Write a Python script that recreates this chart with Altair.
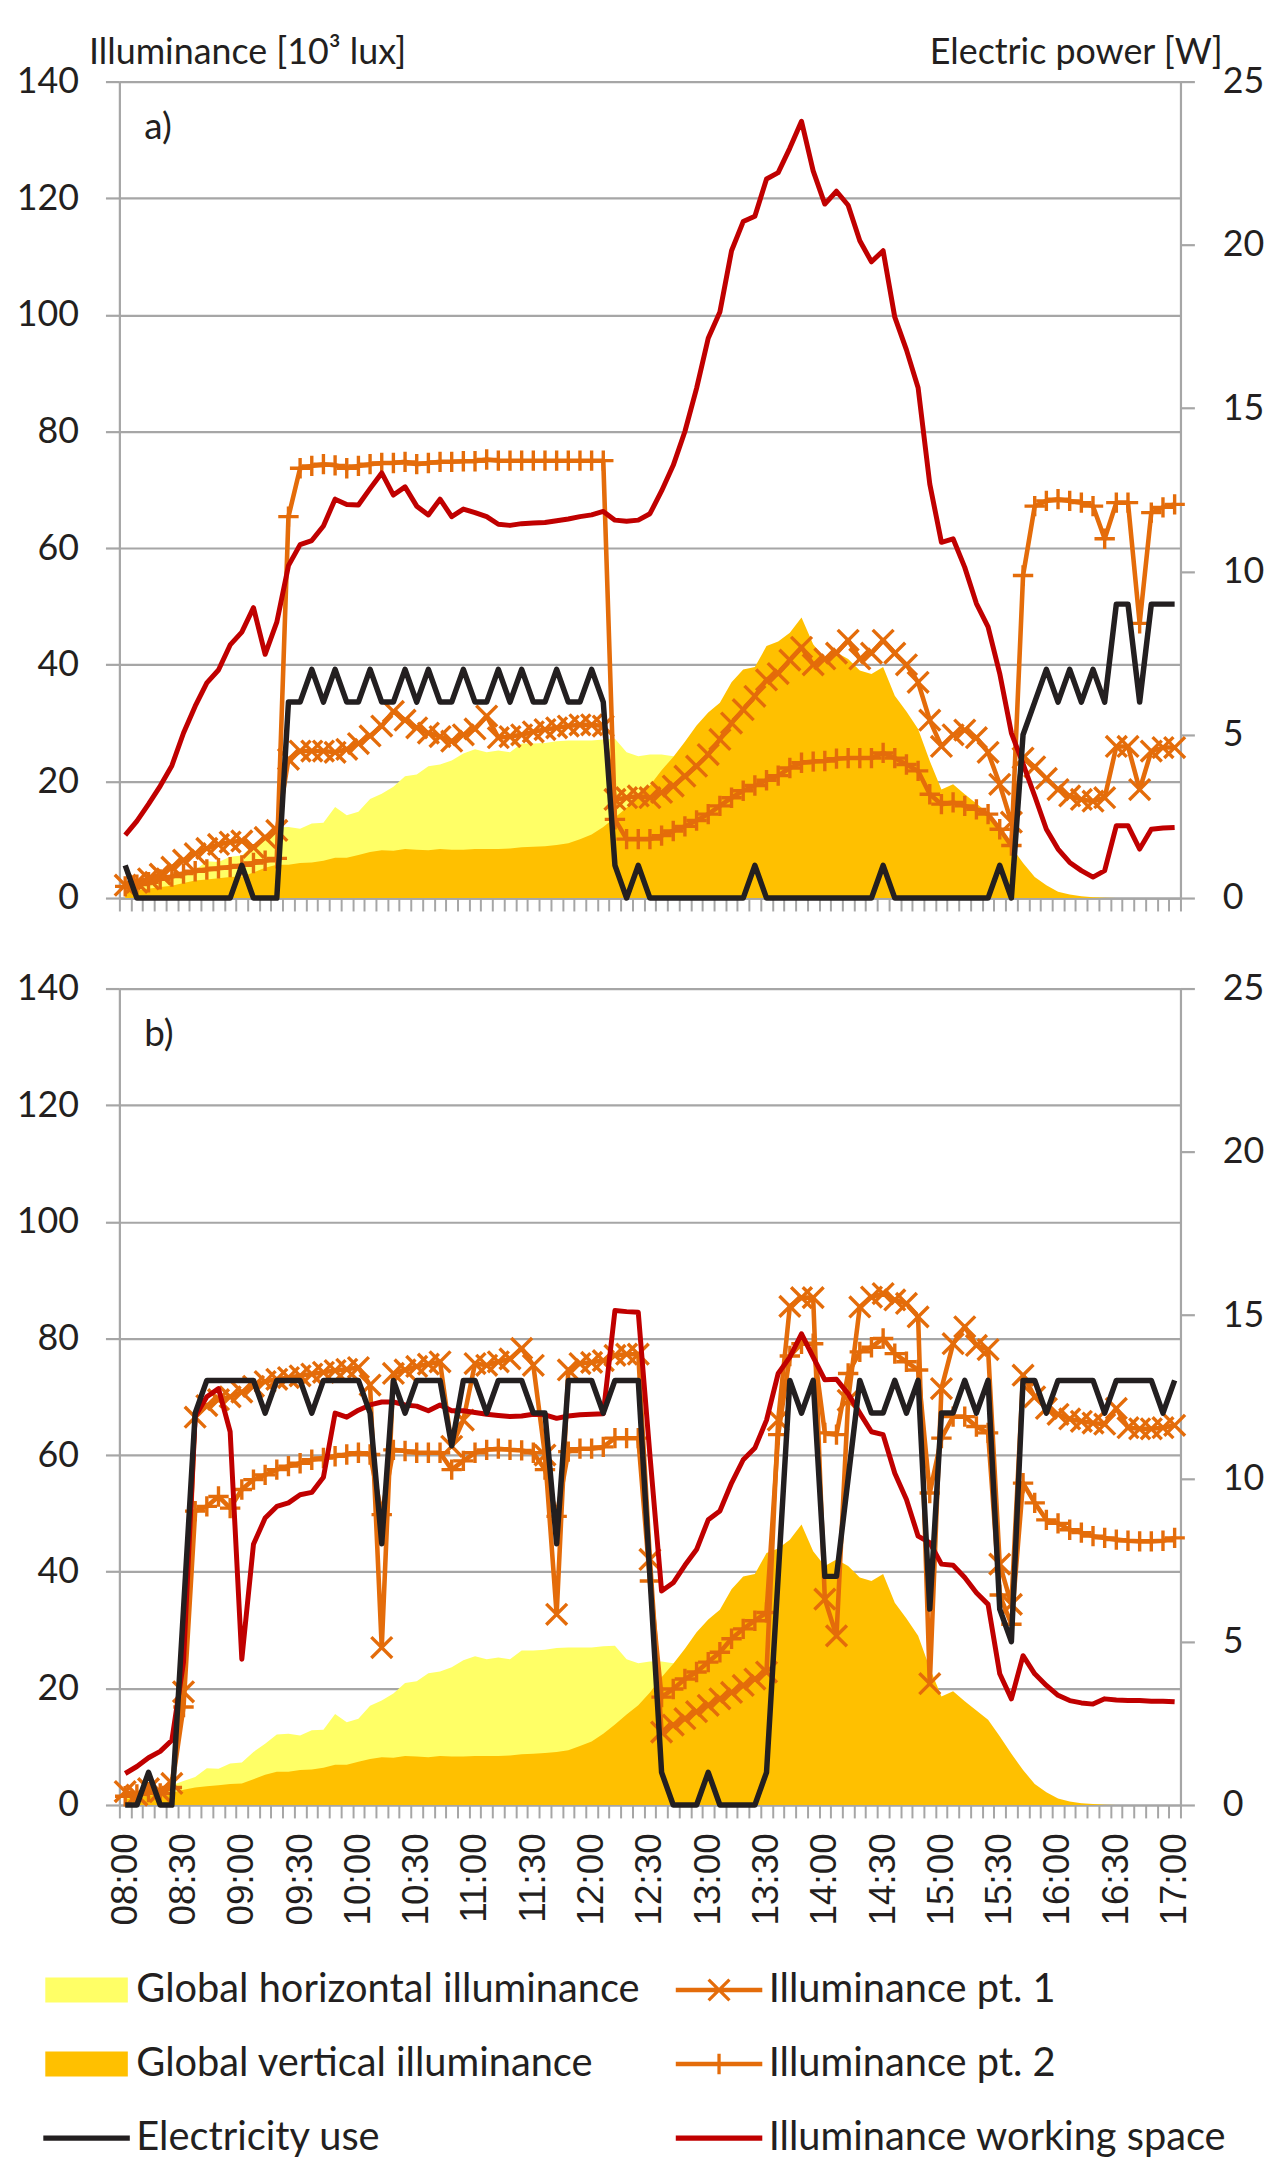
import altair as alt
import pandas as pd

# ---------------------------------------------------------------- data
TICK_LABELS = ["08:00", "08:30", "09:00", "09:30", "10:00", "10:30", "11:00",
               "11:30", "12:00", "12:30", "13:00", "13:30", "14:00", "14:30",
               "15:00", "15:30", "16:00", "16:30", "17:00"]
N = 91                      # 6-minute steps 08:00 ... 17:00
STEP = list(range(N))

GLOBAL_HORIZONTAL = [
    1.5, 2.0, 2.5, 3.0, 3.4, 4.1, 4.8, 6.3, 6.2, 7.1,
    7.3, 9.1, 10.5, 12.1, 12.2, 11.9, 12.8, 12.9, 15.6, 14.2,
    14.8, 17.0, 17.9, 19.1, 20.9, 21.2, 22.6, 22.9, 23.6, 24.8,
    25.5, 25.0, 25.3, 25.0, 26.5, 26.5, 26.6, 26.9, 27.0, 27.0,
    27.0, 27.2, 27.3, 25.0, 24.3, 24.6, 24.6, 24.3, 24.0, 23.6,
    23.2, 22.8, 22.3, 21.8, 21.3, 20.8, 20.2, 19.6, 19.0, 18.4,
    17.8, 17.1, 16.4, 15.7, 15.0, 14.2, 13.4, 12.6, 11.8, 11.0,
    10.2, 9.3, 8.4, 7.5, 6.6, 5.6, 4.6, 3.6, 2.6, 1.7,
    0.9, 0.4, 0.2, 0.1, 0, 0, 0, 0, 0, 0,
    0]
GLOBAL_VERTICAL = [
    1.0, 1.3, 1.6, 1.9, 2.1, 2.6, 3.0, 3.2, 3.4, 3.6,
    3.7, 4.4, 5.2, 5.7, 5.7, 6.0, 6.1, 6.4, 6.9, 6.9,
    7.4, 7.9, 8.2, 8.1, 8.4, 8.3, 8.2, 8.4, 8.3, 8.3,
    8.4, 8.4, 8.4, 8.5, 8.7, 8.8, 8.9, 9.1, 9.4, 10.1,
    10.9, 12.2, 13.8, 15.5, 17.1, 19.3, 21.9, 24.2, 26.8, 29.6,
    31.8, 33.5, 37.0, 39.2, 39.6, 43.2, 44.0, 45.5, 48.1, 43.5,
    41.0, 42.1, 41.0, 39.0, 38.4, 39.6, 34.7, 32.0, 29.0, 23.5,
    18.6, 19.5, 17.8, 16.2, 14.6, 11.8, 8.8, 6.0, 3.6, 2.2,
    1.1, 0.6, 0.3, 0.15, 0.05, 0, 0, 0, 0, 0,
    0]

# panel a)
A_PT1 = [
    2.2, 2.7, 3.3, 4.1, 5.3, 6.5, 7.6, 8.5, 9.2, 9.6,
    9.8, 8.7, 10.4, 11.6, 23.8, 25.2, 25.2, 25.2, 25.0, 25.5,
    26.5, 27.8, 29.5, 32.0, 30.5, 29.2, 28.3, 27.7, 26.9, 28.0,
    29.0, 31.2, 27.5, 27.7, 28.0, 28.5, 28.9, 29.2, 29.5, 29.7,
    29.7, 29.5, 16.9, 17.2, 17.5, 17.2, 18.1, 19.2, 20.9, 22.6,
    24.6, 27.2, 30.0, 32.3, 34.6, 37.4, 38.5, 40.8, 43.0, 40.0,
    41.0, 42.0, 44.2, 41.0, 42.0, 44.2, 42.0, 40.0, 37.0, 30.5,
    26.0, 28.0, 28.8, 27.5, 25.0, 19.5, 13.0, 24.0, 22.5, 20.5,
    18.6, 17.5, 16.9, 16.6, 17.2, 26.0, 26.0, 18.6, 25.2, 25.8,
    25.8]
A_PT2 = [
    2.0, 2.3, 2.7, 3.2, 3.7, 4.2, 4.6, 4.9, 5.1, 5.3,
    5.6, 6.0, 6.4, 6.8, 65.4, 73.7, 74.1, 74.4, 74.2, 73.7,
    74.1, 74.4, 74.6, 74.6, 74.8, 74.4, 74.6, 74.8, 74.8, 74.9,
    74.9, 75.2, 75.0, 75.0, 75.0, 75.0, 75.0, 75.0, 75.0, 75.0,
    75.0, 75.0, 13.5, 10.1, 10.1, 10.1, 10.7, 11.5, 12.3, 13.3,
    14.4, 15.8, 17.2, 18.4, 19.3, 20.2, 21.0, 22.3, 23.2, 23.4,
    23.5, 23.9, 24.0, 24.0, 24.0, 24.9, 24.0, 22.9, 21.8, 17.8,
    16.1, 16.4, 15.8, 15.2, 14.4, 11.8, 9.0, 55.3, 67.2, 68.1,
    68.4, 68.1, 67.8, 67.2, 61.6, 67.8, 67.8, 47.1, 66.1, 67.0,
    67.5]
A_WORK = [
    10.8, 13.2, 16.1, 19.2, 22.7, 28.3, 32.9, 36.9, 39.1, 43.4,
    45.6, 49.8, 41.8, 47.3, 57.0, 60.6, 61.3, 63.8, 68.4, 67.5,
    67.4, 70.2, 72.9, 69.1, 70.5, 67.2, 65.7, 68.4, 65.4, 66.7,
    66.1, 65.4, 64.1, 63.9, 64.2, 64.3, 64.4, 64.7, 65.0, 65.4,
    65.7, 66.3, 64.8, 64.6, 64.8, 65.9, 69.8, 74.2, 80.0, 87.4,
    96.0, 100.5, 111.0, 116.0, 116.9, 123.3, 124.4, 128.6, 133.2, 124.7,
    119.0, 121.2, 118.8, 112.7, 109.1, 111.0, 99.6, 94.0, 87.5, 71.0,
    61.0, 61.6, 56.7, 50.5, 46.5, 38.5, 28.3, 23.0, 17.5, 11.8,
    8.4, 6.1, 4.7, 3.6, 4.7, 12.4, 12.4, 8.4, 11.8, 12.0,
    12.1]
A_ELEC = [
    1, 0, 0, 0, 0, 0, 0, 0, 0, 0,
    1, 0, 0, 0, 6, 6, 7, 6, 7, 6,
    6, 7, 6, 6, 7, 6, 7, 6, 6, 7,
    6, 6, 7, 6, 7, 6, 6, 7, 6, 6,
    7, 6, 1, 0, 1, 0, 0, 0, 0, 0,
    0, 0, 0, 0, 1, 0, 0, 0, 0, 0,
    0, 0, 0, 0, 0, 1, 0, 0, 0, 0,
    0, 0, 0, 0, 0, 1, 0, 5, 6, 7,
    6, 7, 6, 7, 6, 9, 9, 6, 9, 9,
    9]

# panel b)
B_PT1 = [
    2.3, 1.7, 2.8, 2.3, 3.7, 19.4, 66.5, 68.5, 69.5, 70.0,
    70.8, 71.8, 72.6, 73.0, 73.3, 73.6, 73.9, 74.2, 74.5, 74.7,
    75.0, 72.0, 27.0, 74.0, 74.6, 75.2, 75.6, 76.0, 61.5, 66.0,
    75.7, 75.4, 76.0, 76.5, 78.3, 75.4, 60.0, 32.7, 74.6, 75.7,
    75.9, 76.2, 77.1, 77.3, 77.3, 42.1, 12.5, 13.7, 14.8, 16.0,
    17.1, 18.2, 19.3, 20.5, 21.6, 22.8, 66.0, 85.5, 87.0, 87.0,
    35.3, 29.0, 69.4, 85.4, 87.1, 87.7, 86.6, 86.0, 83.7, 20.8,
    71.4, 79.1, 82.0, 78.8, 78.1, 41.3, 34.4, 73.7, 70.0, 68.0,
    67.0, 66.2, 65.8, 65.5, 65.3, 68.0, 64.7, 64.5, 64.5, 64.7,
    65.1]
B_PT2 = [
    1.5, 1.8, 2.2, 2.0, 3.0, 16.8, 50.4, 51.2, 52.9, 50.9,
    54.1, 55.8, 56.6, 57.5, 58.1, 58.6, 59.2, 59.5, 59.8, 60.1,
    60.4, 60.1, 49.8, 60.9, 60.7, 60.4, 60.4, 60.4, 57.5, 59.0,
    60.4, 60.9, 61.1, 60.9, 60.8, 60.4, 57.5, 49.5, 60.6, 61.1,
    61.1, 61.4, 62.9, 62.9, 62.9, 38.4, 18.5, 19.9, 21.6, 22.8,
    24.5, 26.2, 28.5, 30.2, 31.6, 33.0, 63.5, 77.0, 79.1, 79.1,
    63.8, 63.5, 74.0, 77.7, 78.5, 80.0, 77.4, 76.0, 74.6, 53.5,
    62.9, 66.6, 66.6, 64.9, 63.8, 36.0, 31.0, 55.2, 51.8, 48.9,
    48.3, 47.2, 46.7, 46.1, 45.8, 45.5, 45.3, 45.2, 45.2, 45.3,
    45.8]
B_WORK = [
    5.4, 6.6, 8.1, 9.2, 11.1, 24.5, 66.6, 70.0, 71.4, 64.0,
    25.0, 44.7, 49.2, 51.2, 51.8, 53.2, 53.6, 56.2, 67.2, 66.5,
    67.7, 68.6, 69.1, 69.1, 68.6, 68.4, 67.6, 68.6, 67.6, 67.6,
    67.3, 67.0, 66.8, 66.6, 66.7, 67.0, 66.9, 66.3, 66.7, 66.9,
    67.0, 67.1, 84.8, 84.6, 84.5, 60.0, 36.7, 38.1, 41.1, 43.8,
    48.9, 50.4, 55.2, 59.2, 61.2, 66.0, 74.0, 76.8, 80.8, 76.8,
    72.9, 73.0, 70.5, 67.2, 64.0, 63.5, 56.9, 52.4, 46.1, 45.0,
    41.3, 41.1, 39.0, 36.4, 34.4, 22.5, 18.2, 25.6, 22.5, 20.5,
    18.8, 17.9, 17.5, 17.3, 18.2, 18.0, 17.9, 17.9, 17.8, 17.8,
    17.7]
B_ELEC = [
    0, 0, 1, 0, 0, 6, 12, 13, 13, 13,
    13, 13, 12, 13, 13, 13, 12, 13, 13, 13,
    13, 12, 8, 13, 12, 13, 13, 13, 11, 13,
    13, 12, 13, 13, 13, 12, 12, 8, 13, 13,
    13, 12, 13, 13, 13, 7, 1, 0, 0, 0,
    1, 0, 0, 0, 0, 1, 7, 13, 12, 13,
    7, 7, 10, 13, 12, 12, 13, 12, 13, 6,
    12, 12, 13, 12, 13, 6, 5, 13, 13, 12,
    13, 13, 13, 13, 12, 13, 13, 13, 13, 12,
    13]

PANEL_LABELS = ["a)", "b)"]
LEFT_TITLE = "Illuminance [10³ lux]"
RIGHT_TITLE = "Electric power [W]"
LEFT_TICKS = [0, 20, 40, 60, 80, 100, 120, 140]
RIGHT_TICKS = [0, 5, 10, 15, 20, 25]

# legend entries, column by column (left column first)
LEGEND_ORDER = ["Global horizontal illuminance", "Global vertical illuminance",
                "Electricity use", "Illuminance pt. 1", "Illuminance pt. 2",
                "Illuminance working space"]

# ---------------------------------------------------------------- style
FONT = "Lato"
TXT = "#231F20"
GRID = "#A6A6A6"
YELLOW = "#FFFF66"
GOLD = "#FFC000"
ORANGE = "#E46C0A"
RED = "#C00000"
BLACK = "#231F20"
LEGEND_COLORS = [YELLOW, GOLD, BLACK, ORANGE, ORANGE, RED]

W, H = 1067, 821
HALF = W / N / 2.0

X_MARK = "M-1,-1L1,1M-1,1L1,-1"
PLUS_MARK = "M-1,0L1,0M0,-1L0,1"

# legend symbols (filled paths, unit = 22 px)
SWATCH = "M-1.886,-0.568H1.886V0.568H-1.886Z"
LINE_E = "M-1.977,-0.125H1.977V0.125H-1.977Z"
LINE_W = "M-1.977,-0.115H1.977V0.115H-1.977Z"
LINE_O = "M-1.977,-0.105H1.977V0.105H-1.977Z"
XSYM = ("M-0.4255,-0.5285L0.5285,0.4255L0.4255,0.5285L-0.5285,-0.4255Z "
        "M-0.5285,0.4255L0.4255,-0.5285L0.5285,-0.4255L-0.4255,0.5285Z")
PSYM = ("M-0.075,-0.47H0.075V0.47H-0.075Z "
        "M-0.47,-0.075H0.47V0.075H-0.47Z")
LEGEND_SHAPES = [SWATCH, SWATCH, LINE_E, LINE_O + " " + XSYM,
                 LINE_O + " " + PSYM, LINE_W]

BOUNDS = [i - 0.5 for i in range(N + 1)]
LAB_ARR = "[" + ",".join("'%s'" % t for t in TICK_LABELS) + "]"
LABEL_EXPR = ("((datum.value + 0.5) % 5 == 0) ? " + LAB_ARR +
              "[(datum.value + 0.5) / 5] : ''")

XSCALE = alt.Scale(domain=[-0.5, N - 0.5], nice=False, zero=False)


def x_enc(show_labels):
    ax = alt.Axis(values=BOUNDS, title=None, grid=False, labels=show_labels,
                  labelExpr=LABEL_EXPR, labelAngle=-90, labelOffset=HALF,
                  labelPadding=15, labelFont="Liberation Sans",
                  labelFontSize=37, labelColor=TXT, labelOverlap=False,
                  labelFlush=False, labelBound=False,
                  ticks=True, tickSize=13, tickColor=GRID, tickWidth=2,
                  domain=True, domainColor=GRID, domainWidth=2.2)
    return alt.X("step:Q", scale=XSCALE, axis=ax)


def y_left(field, with_title):
    ax = alt.Axis(values=LEFT_TICKS, orient="left", grid=True,
                  gridColor=GRID, gridWidth=2.2, tickSize=14, tickColor=GRID,
                  tickWidth=2.2, domainColor=GRID, domainWidth=2.2,
                  labelFont=FONT, labelFontSize=36, labelColor=TXT,
                  labelPadding=27,
                  title=LEFT_TITLE if with_title else None,
                  titleAngle=0, titleAlign="left", titleBaseline="alphabetic",
                  titleX=-31, titleY=-18, titleFont=FONT, titleFontSize=36,
                  titleFontWeight="normal", titleColor=TXT)
    return alt.Y(field + ":Q", scale=alt.Scale(domain=[0, 140], nice=False),
                 axis=ax)


def y_right(with_title):
    ax = alt.Axis(values=RIGHT_TICKS, orient="right", grid=False,
                  tickSize=14, tickColor=GRID, tickWidth=2.2,
                  domainColor=GRID, domainWidth=2.2,
                  labelFont=FONT, labelFontSize=36, labelColor=TXT,
                  labelPadding=28,
                  title=RIGHT_TITLE if with_title else None,
                  titleAngle=0, titleAlign="right", titleBaseline="alphabetic",
                  titleX=42, titleY=-18, titleFont=FONT, titleFontSize=36,
                  titleFontWeight="normal", titleColor=TXT)
    return alt.Y("elec:Q", scale=alt.Scale(domain=[0, 25], nice=False),
                 axis=ax)


def panel(idx, pt1, pt2, work, elec):
    first = idx == 0
    df = pd.DataFrame({"step": STEP, "gh": GLOBAL_HORIZONTAL,
                       "gv": GLOBAL_VERTICAL, "pt1": pt1, "pt2": pt2,
                       "work": work, "elec": elec})
    xe = x_enc(not first)
    base = alt.Chart(df)
    gh = base.mark_area(color=YELLOW, opacity=1).encode(x=xe, y=y_left("gh", first))
    gv = base.mark_area(color=GOLD, opacity=1).encode(x=xe, y=y_left("gv", first))
    p2l = base.mark_line(color=ORANGE, strokeWidth=4.6, strokeJoin="round").encode(
        x=xe, y=y_left("pt2", first))
    p2m = base.mark_point(shape=PLUS_MARK, filled=False, size=420, strokeWidth=3.4,
                          color=ORANGE, opacity=1).encode(x=xe, y=y_left("pt2", first))
    p1l = base.mark_line(color=ORANGE, strokeWidth=4.6, strokeJoin="round").encode(
        x=xe, y=y_left("pt1", first))
    p1m = base.mark_point(shape=X_MARK, filled=False, size=440, strokeWidth=3.4,
                          color=ORANGE, opacity=1).encode(x=xe, y=y_left("pt1", first))
    wl = base.mark_line(color=RED, strokeWidth=5, strokeJoin="round").encode(
        x=xe, y=y_left("work", first))
    lab = alt.Chart(pd.DataFrame({"t": [PANEL_LABELS[idx]]})).mark_text(
        align="left", baseline="middle", font=FONT, fontSize=37, color=TXT
    ).encode(x=alt.value(25), y=alt.value(47), text="t:N")
    layers = [gh, gv, p2l, p2m, p1l, p1m, wl, lab]
    if not first:
        leg_df = pd.DataFrame({"series": LEGEND_ORDER, "step": [-40] * 6,
                               "val": [0] * 6})
        lg = alt.Legend(title=None, orient="none", legendX=-55, legendY=1897,
                        columns=2, direction="vertical", symbolSize=1936,
                        symbolStrokeWidth=0, symbolOpacity=1,
                        labelFont=FONT, labelFontSize=40, labelColor=TXT,
                        labelOffset=28, labelLimit=0, rowPadding=32.5,
                        columnPadding=35)
        dummy = alt.Chart(leg_df).mark_point(filled=True, clip=True, opacity=1).encode(
            x=xe, y=y_left("val", first),
            color=alt.Color("series:N", scale=alt.Scale(domain=LEGEND_ORDER,
                                                        range=LEGEND_COLORS),
                            legend=lg),
            shape=alt.Shape("series:N", scale=alt.Scale(domain=LEGEND_ORDER,
                                                        range=LEGEND_SHAPES),
                            legend=lg))
        layers.append(dummy)
    left = alt.layer(*layers)
    right = base.mark_line(color=BLACK, strokeWidth=5.5, strokeJoin="round").encode(
        x=xe, y=y_right(first))
    return alt.layer(left, right).resolve_scale(y="independent").properties(
        width=W, height=H)


pa = panel(0, A_PT1, A_PT2, A_WORK, A_ELEC)
pb = panel(1, B_PT1, B_PT2, B_WORK, B_ELEC)

chart = alt.vconcat(pa, pb, spacing=91, bounds="flush").properties(
    padding={"left": 8, "top": 21, "right": 0, "bottom": 0}
).configure_view(strokeWidth=0)

chart.save("out.html", embed_options={"renderer": "svg", "actions": False})
